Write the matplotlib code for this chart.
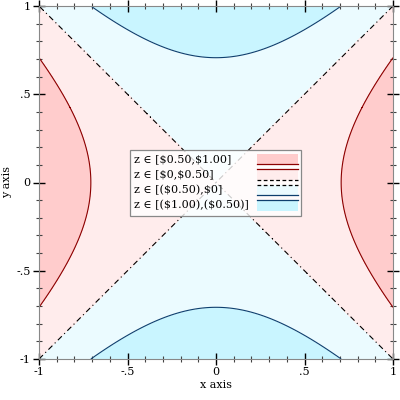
import numpy as np
import matplotlib
matplotlib.use("Agg")
import matplotlib.pyplot as plt
from matplotlib.patches import Rectangle
from matplotlib.lines import Line2D

plt.rcParams['font.family'] = ['DejaVu Serif']
plt.rcParams['font.size'] = 8

levels = [-1.0, -0.5, 0.0, 0.5, 1.0]
fill_colors = ['#C9F5FF', '#EBFBFF', '#FFECEC', '#FFCCCC']
line_colors = ['#0E3F6E', '#0E3F6E', '#000000', '#8B0000', '#8B0000']
dash_dot = (0, (5, 3, 1, 3))
line_styles = ['-', '-', dash_dot, '-', '-']
legend_labels = ['z ∈ [\\$0.50,\\$1.00]', 'z ∈ [\\$0,\\$0.50]',
                 'z ∈ [(\\$0.50),\\$0]', 'z ∈ [(\\$1.00),(\\$0.50)]']
tick_values = [-1, -0.5, 0, 0.5, 1]
tick_labels = ['-1', '-.5', '0', '.5', '1']

xs = np.linspace(-1, 1, 401)
ys = np.linspace(-1, 1, 401)
X, Y = np.meshgrid(xs, ys)
Z = X**2 - Y**2

fig = plt.figure(figsize=(4, 4), dpi=100)
ax = fig.add_axes([0.0975, 0.1025, 0.885, 0.8825])
ax.contourf(X, Y, Z, levels=[-1.01, -0.5, 0, 0.5, 1.01], colors=fill_colors)
for lv, c, ls in zip(levels[1:4], line_colors[1:4], line_styles[1:4]):
    ax.contour(X, Y, Z, levels=[lv], colors=[c], linewidths=0.8, linestyles=[ls])

ax.set_xlim(-1, 1)
ax.set_ylim(-1, 1)
ax.set_xticks(tick_values)
ax.set_xticklabels(tick_labels)
ax.set_yticks(tick_values)
ax.set_yticklabels(tick_labels)
ax.set_xticks(np.arange(-1, 1.001, 0.1), minor=True)
ax.set_yticks(np.arange(-1, 1.001, 0.1), minor=True)
ax.tick_params(which='major', direction='inout', length=8, width=1, top=True, right=True, labelsize=8, pad=2)
ax.tick_params(which='minor', direction='inout', length=4, width=0.8, top=True, right=True, color='#444444')
for s in ax.spines.values():
    s.set_color('#888888')
    s.set_linewidth(0.8)
ax.set_xlabel('x axis', fontsize=8, labelpad=2)
ax.set_ylabel('y axis', fontsize=8, labelpad=3)

# manual legend (pixel layout converted to axes fraction)
X0, Y0, W, H = 39.0, 359.0, 354.0, 353.0


def ax_xy(px, py):
    return (px - X0) / W, (Y0 - py) / H


lx0, ly0 = ax_xy(130, 216)
lx1, ly1 = ax_xy(301, 150)
ax.add_patch(Rectangle((lx0, ly0), lx1 - lx0, ly1 - ly0, transform=ax.transAxes,
                       facecolor='white', alpha=0.8, edgecolor='none', zorder=5))
ax.add_patch(Rectangle((lx0, ly0), lx1 - lx0, ly1 - ly0, transform=ax.transAxes,
                       facecolor='none', edgecolor='#888888', lw=0.9, zorder=6))

legend_dash = (0, (3, 2))
row_specs = [
    (fill_colors[3], None, (line_colors[3], '-')),
    (fill_colors[2], (line_colors[3], '-'), (line_colors[2], legend_dash)),
    (fill_colors[1], (line_colors[2], legend_dash), (line_colors[1], '-')),
    (fill_colors[0], (line_colors[1], '-'), None),
]
sx0, sx1 = 257, 298
for i, (label, (fc, top, bot)) in enumerate(zip(legend_labels, row_specs)):
    t = 154 + i * 15.4
    b = t + 10.4
    ax0, ay0 = ax_xy(sx0, b)
    ax1, ay1 = ax_xy(sx1, t)
    ax.add_patch(Rectangle((ax0, ay0), ax1 - ax0, ay1 - ay0, transform=ax.transAxes,
                           facecolor=fc, edgecolor='none', zorder=7))
    if top is not None:
        ax.add_line(Line2D([ax0, ax1], [ay1, ay1], color=top[0], ls=top[1], lw=0.9,
                           transform=ax.transAxes, zorder=8))
    if bot is not None:
        ax.add_line(Line2D([ax0, ax1], [ay0, ay0], color=bot[0], ls=bot[1], lw=0.9,
                           transform=ax.transAxes, zorder=8))
    tx, ty = ax_xy(134, (t + b) / 2)
    ax.text(tx, ty, label, transform=ax.transAxes, ha='left', va='center',
            fontsize=8, zorder=9)

fig.savefig('out.png', dpi=100)
